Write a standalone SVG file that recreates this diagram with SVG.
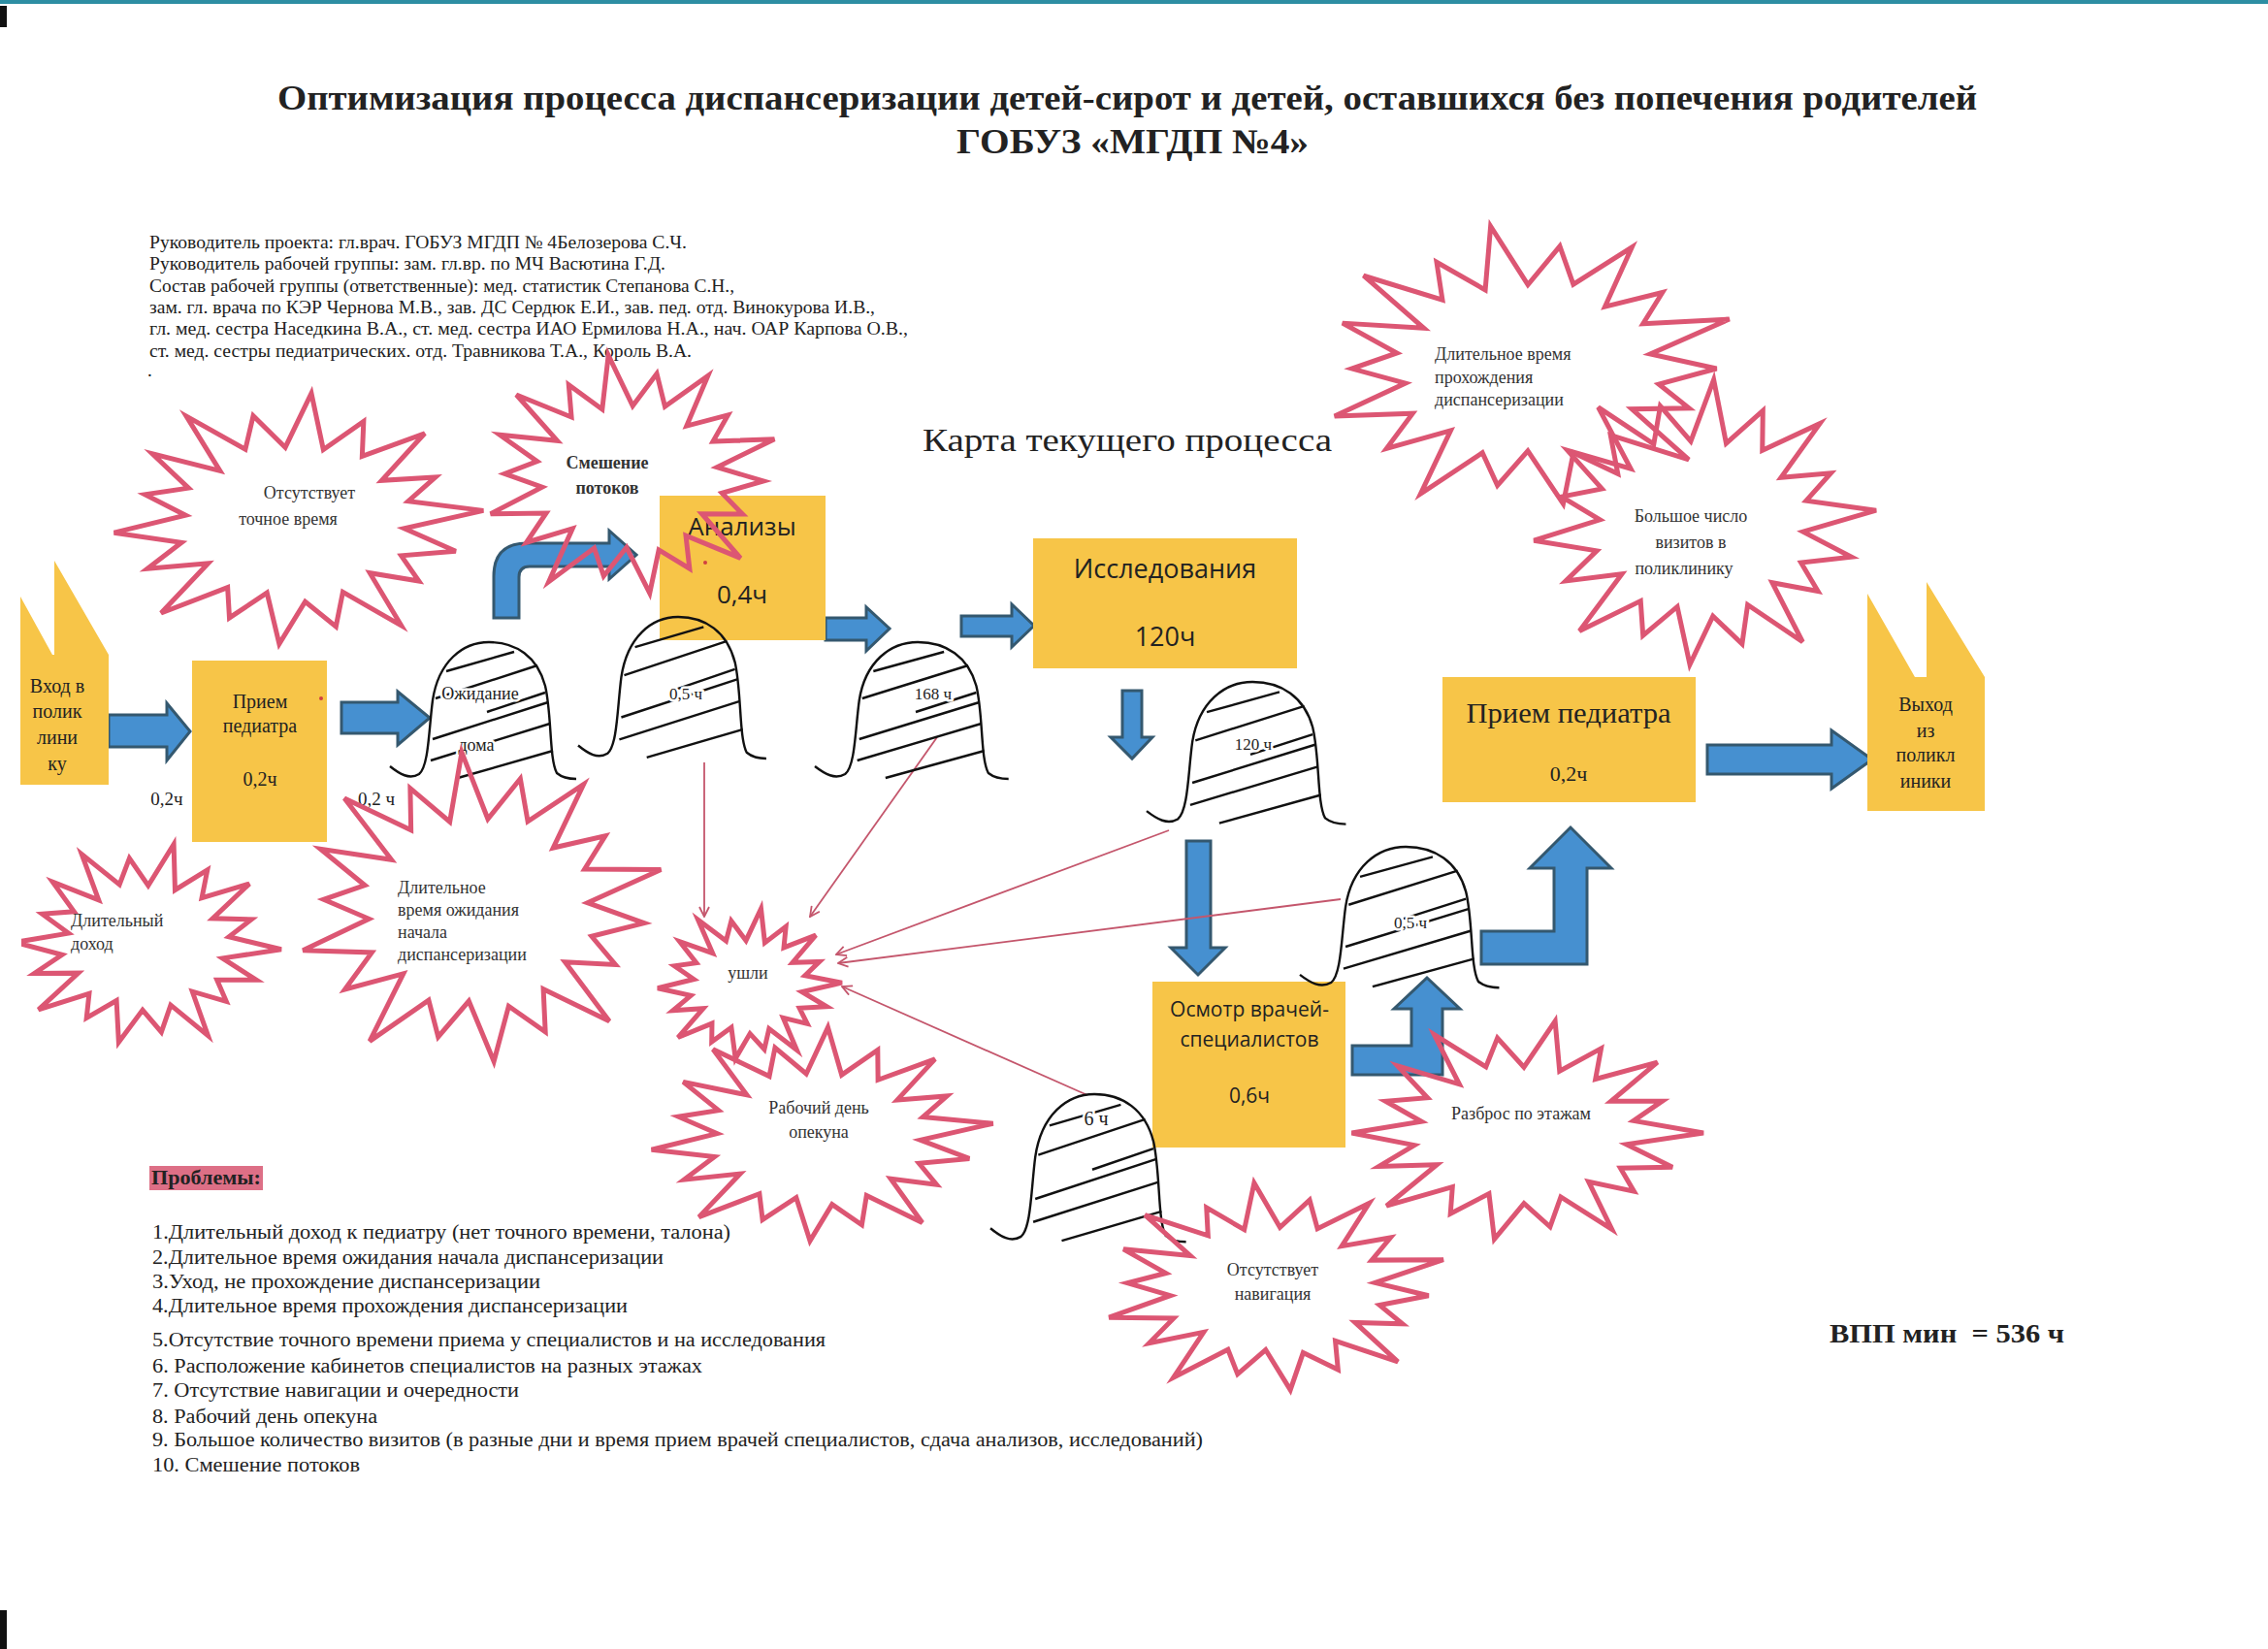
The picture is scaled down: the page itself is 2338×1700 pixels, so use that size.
<svg xmlns="http://www.w3.org/2000/svg" xmlns:xlink="http://www.w3.org/1999/xlink" width="2338" height="1700" viewBox="0 0 2338 1700">
<style>
.t{font-family:"Liberation Serif","Times New Roman",serif;fill:#222}
.s{font-family:"Open Sans","Liberation Sans",sans-serif;fill:#222}
.hl{paint-order:stroke;stroke:#fff;stroke-width:5px;stroke-linejoin:round}
.box{fill:#F7C548}
.barrow{fill:#4690D0;stroke:#34586F;stroke-width:3;stroke-linejoin:miter}
.red{stroke:#C4566C;stroke-width:1.8;fill:none}
.st{font-family:"Liberation Serif","Times New Roman",serif;font-size:18px;fill:#333}
</style>
<defs>
<polygon id="star" fill="none" stroke="#DC5673" stroke-width="5" stroke-linejoin="miter" vector-effect="non-scaling-stroke" points="0,-100 10.1,-57.1 29.4,-80.8 31,-53.7 62.4,-74.3 42.9,-36 71,-41 58.3,-21.2 98.5,-17.4 58,0 86.7,15.3 58.3,21.2 69.3,40 42.9,36 63,75.1 30,52 28.7,78.9 10.8,61.1 0,95 -9.9,56.1 -28,77.1 -31,53.7 -64.3,76.6 -42.9,36 -74.5,43 -58.3,21.2 -94.5,16.7 -58,0 -80.8,-14.2 -58.3,-21.2 -79.7,-46 -42.9,-36 -64.3,-76.6 -31,-53.7 -29.1,-79.9 -10.1,-57.1"/>
<g id="hump" fill="none" stroke="#111" stroke-width="2.4">
<path vector-effect="non-scaling-stroke" d="M0,128 C10,136 20,142 30,136 C40,128 40,90 44,60 C50,20 75,0 102,0 C130,0 152,15 160,45 C167,75 164,120 172,135 C178,140 185,141 192,141"/>
<line vector-effect="non-scaling-stroke" x1="58" y1="30" x2="128" y2="10"/>
<line vector-effect="non-scaling-stroke" x1="47" y1="58" x2="152" y2="24"/>
<line vector-effect="non-scaling-stroke" x1="100" y1="72" x2="160" y2="52"/>
<line vector-effect="non-scaling-stroke" x1="44" y1="100" x2="163" y2="62"/>
<line vector-effect="non-scaling-stroke" x1="42" y1="122" x2="165" y2="84"/>
<line vector-effect="non-scaling-stroke" x1="70" y1="140" x2="168" y2="112"/>
</g>
<marker id="ah" viewBox="0 0 12 12" refX="11" refY="6" markerWidth="12" markerHeight="12" markerUnits="userSpaceOnUse" orient="auto">
<path d="M1,1 L11,6 L1,11" fill="none" stroke="#C4566C" stroke-width="1.8"/>
</marker>
<clipPath id="pageclip"><rect x="22" y="0" width="2316" height="1700"/></clipPath>
</defs>
<rect width="2338" height="1700" fill="#ffffff"/>
<rect x="0" y="0" width="2338" height="4" fill="#2d8ea3"/>
<rect x="0" y="6" width="7" height="22" fill="#111"/>
<rect x="0" y="1660" width="7" height="40" fill="#111"/>

<g id="title">
<text class="t" x="286" y="113" font-size="36" font-weight="bold" textLength="1752" lengthAdjust="spacingAndGlyphs">Оптимизация процесса диспансеризации детей-сирот и детей, оставшихся без попечения родителей</text>
<text class="t" x="986" y="158" font-size="36" font-weight="bold" textLength="363" lengthAdjust="spacingAndGlyphs">ГОБУЗ «МГДП №4»</text>
</g>

<g id="team" font-size="19">
<text class="t" x="154" y="256" textLength="554" lengthAdjust="spacingAndGlyphs">Руководитель проекта: гл.врач. ГОБУЗ МГДП № 4Белозерова С.Ч.</text>
<text class="t" x="154" y="278" textLength="532" lengthAdjust="spacingAndGlyphs">Руководитель рабочей группы: зам. гл.вр. по МЧ Васютина Г.Д.</text>
<text class="t" x="154" y="301" textLength="603" lengthAdjust="spacingAndGlyphs">Состав рабочей группы (ответственные): мед. статистик Степанова С.Н.,</text>
<text class="t" x="154" y="323" textLength="748" lengthAdjust="spacingAndGlyphs">зам. гл.  врача по КЭР Чернова М.В., зав. ДС Сердюк Е.И., зав. пед. отд. Винокурова И.В.,</text>
<text class="t" x="154" y="345" textLength="782" lengthAdjust="spacingAndGlyphs">гл. мед. сестра  Наседкина В.А., ст. мед. сестра  ИАО Ермилова Н.А.,  нач. ОАР Карпова О.В.,</text>
<text class="t" x="154" y="368" textLength="559" lengthAdjust="spacingAndGlyphs">ст. мед. сестры педиатрических. отд. Травникова Т.А., Король В.А.</text>
<text class="t" x="152" y="388">.</text>
</g>

<g id="map-title">
<text class="t" x="951" y="465" font-size="34" textLength="422" lengthAdjust="spacingAndGlyphs">Карта текущего процесса</text>
</g>

<g id="connectors">
<polygon class="barrow" points="112,737 172,737 172,725 196,754 172,784 172,770 112,770"/>
<polygon class="barrow" points="352,724 410,724 410,713 443,740 410,768 410,756 352,756"/>
<path class="barrow" d="M509,637 L509,594 Q509,560 543,560 L628,560 L628,547 L656,572 L628,597 L628,584 L546,584 Q535,584 535,595 L535,637 Z"/>
<polygon class="barrow" points="851,637 893,637 893,626 917,648 893,671 893,660 851,660"/>
<polygon class="barrow" points="991,635 1043,635 1043,623 1066,645 1043,667 1043,656 991,656"/>
<polygon class="barrow" points="1157,712 1177,712 1177,760 1188,760 1167,782 1145,760 1157,760"/>
<polygon class="barrow" points="1223,867 1248,867 1248,977 1263,977 1235,1005 1207,977 1223,977"/>
<polygon class="barrow" points="1394,1078 1455,1078 1455,1040 1437,1040 1471,1008 1505,1040 1487,1040 1487,1108 1394,1108"/>
<polygon class="barrow" points="1527,960 1602,960 1602,895 1577,895 1619,853 1661,895 1636,895 1636,994 1527,994"/>
<polygon class="barrow" points="1760,768 1888,768 1888,753 1930,783 1888,813 1888,798 1760,798"/>
<line class="red" x1="726" y1="786" x2="726" y2="945" marker-end="url(#ah)"/>
<line class="red" x1="966" y1="760" x2="835" y2="945" marker-end="url(#ah)"/>
<line class="red" x1="1205" y1="856" x2="862" y2="984" marker-end="url(#ah)"/>
<line class="red" x1="1382" y1="927" x2="864" y2="993" marker-end="url(#ah)"/>
<line class="red" x1="1121" y1="1129" x2="868" y2="1017" marker-end="url(#ah)"/>
</g>

<g id="entry">
<polygon class="box" points="21,615 54,675 56,675 56,578 112,675 112,809 21,809"/>
<text class="t" font-size="20" text-anchor="middle"><tspan x="59" y="714">Вход в</tspan><tspan x="59" y="740">полик</tspan><tspan x="59" y="767">лини</tspan><tspan x="59" y="794">ку</tspan></text>
<text class="t" x="172" y="830" font-size="19" text-anchor="middle">0,2ч</text>
</g>

<g id="pediatrician1">
<rect class="box" x="198" y="681" width="139" height="187"/>
<text class="t" font-size="20" text-anchor="middle"><tspan x="268" y="730">Прием</tspan><tspan x="268" y="755">педиатра</tspan><tspan x="268" y="810">0,2ч</tspan></text>
<circle cx="331" cy="720" r="2" fill="#D04040"/>
<text class="t" x="388" y="830" font-size="19" text-anchor="middle">0,2 ч</text>
</g>

<g id="wait-home">
<use href="#hump" transform="translate(402,662)"/>
<text class="t hl" x="495" y="721" font-size="18" text-anchor="middle">Ожидание</text>
<text class="t hl" x="491" y="774" font-size="18" text-anchor="middle">дома</text>
</g>

<g id="analyses">
<rect class="box" x="680" y="511" width="171" height="149"/>
<circle cx="727" cy="580" r="2" fill="#D04040"/>
<text class="s" x="765" y="552" font-size="26" text-anchor="middle">Анализы</text>
<text class="s" x="765" y="622" font-size="26" text-anchor="middle">0,4ч</text>
</g>

<g id="wait-analyses">
<use href="#hump" transform="translate(596,636) scale(1.01,1.035)"/>
<text class="t hl" x="707" y="721" font-size="17" text-anchor="middle">0,5 ч</text>
</g>

<g id="wait-168">
<use href="#hump" transform="translate(840,662) scale(1.04,1.0)"/>
<text class="t hl" x="962" y="721" font-size="17" text-anchor="middle">168 ч</text>
</g>

<g id="research">
<rect class="box" x="1065" y="555" width="272" height="134"/>
<text class="s" x="1201" y="596" font-size="27" text-anchor="middle">Исследования</text>
<text class="s" x="1201" y="666" font-size="27" text-anchor="middle">120ч</text>
</g>

<g id="wait-120">
<use href="#hump" transform="translate(1182,703) scale(1.07,1.04)"/>
<text class="t hl" x="1292" y="773" font-size="17" text-anchor="middle">120 ч</text>
</g>

<g id="specialists">
<rect class="box" x="1188" y="1012" width="199" height="171"/>
<text class="s" x="1288" y="1048" font-size="21" text-anchor="middle">Осмотр врачей-</text>
<text class="s" x="1288" y="1079" font-size="21" text-anchor="middle">специалистов</text>
<text class="s" x="1288" y="1137" font-size="21" text-anchor="middle">0,6ч</text>
</g>

<g id="wait-05">
<use href="#hump" transform="translate(1340,873) scale(1.07,1.03)"/>
<text class="t hl" x="1454" y="957" font-size="17" text-anchor="middle">0,5 ч</text>
</g>

<g id="wait-6">
<use href="#hump" transform="translate(1021,1128) scale(1.05,1.08)"/>
<text class="t hl" x="1130" y="1160" font-size="20" text-anchor="middle">6 ч</text>
</g>

<g id="pediatrician2">
<rect class="box" x="1487" y="698" width="261" height="129"/>
<text class="t" x="1617" y="745" font-size="30" text-anchor="middle" textLength="211" lengthAdjust="spacingAndGlyphs">Прием педиатра</text>
<text class="t" x="1617" y="805" font-size="22" text-anchor="middle">0,2ч</text>
</g>

<g id="exit">
<polygon class="box" points="1925,612 1974,698 1986,698 1986,600 2046,698 2046,836 1925,836"/>
<text class="t" font-size="20" text-anchor="middle"><tspan x="1985" y="733">Выход</tspan><tspan x="1985" y="760">из</tspan><tspan x="1985" y="785">поликл</tspan><tspan x="1985" y="812">иники</tspan></text>
</g>

<g id="problem-stars">
<g id="star-time"><use href="#star" transform="translate(304,538) scale(1.95,1.33) rotate(5)"/>
<text class="st" x="319" y="514" text-anchor="middle">Отсутствует</text><text class="st" x="297" y="541" text-anchor="middle">точное время</text></g>
<g id="star-flows"><use href="#star" transform="translate(649,492) scale(1.57,1.27) rotate(-8)"/>
<text class="st" x="626" y="483" font-weight="bold" text-anchor="middle">Смешение</text><text class="st" x="626" y="509" font-weight="bold" text-anchor="middle">потоков</text></g>
<g id="star-arrival"><g clip-path="url(#pageclip)"><use href="#star" transform="translate(150,975) scale(1.40,1.07) rotate(12)"/></g>
<text class="st" x="73" y="955" fill="#444">Длительный</text><text class="st" x="73" y="979" fill="#444">доход</text></g>
<g id="star-start"><use href="#star" transform="translate(493,939) scale(1.95,1.64) rotate(-5)"/>
<text class="st" x="410" y="921">Длительное</text><text class="st" x="410" y="944">время ожидания</text><text class="st" x="410" y="967">начала</text><text class="st" x="410" y="990">диспансеризации</text></g>
<g id="star-left"><use href="#star" transform="translate(771,1016) scale(0.97,0.8) rotate(8)"/>
<text class="st" x="771" y="1009" text-anchor="middle">ушли</text></g>
<g id="star-guardian"><use href="#star" transform="translate(844,1172) scale(1.81,1.13) rotate(3)"/>
<text class="st" x="844" y="1148" text-anchor="middle">Рабочий день</text><text class="st" x="844" y="1173" text-anchor="middle">опекуна</text></g>
<g id="star-nav"><use href="#star" transform="translate(1312,1329) scale(1.83,1.1) rotate(-6)"/>
<text class="st" x="1312" y="1315" text-anchor="middle">Отсутствует</text><text class="st" x="1312" y="1340" text-anchor="middle">навигация</text></g>
<g id="star-floors"><use href="#star" transform="translate(1571,1168) scale(1.85,1.17) rotate(10)"/>
<text class="st" x="1568" y="1154" text-anchor="middle">Разброс по этажам</text></g>
<g id="star-duration"><use href="#star" transform="translate(1575,380) scale(2.21,1.49) rotate(-10)"/>
<text class="st" x="1479" y="371" fill="#555">Длительное время</text><text class="st" x="1479" y="395" fill="#555">прохождения</text><text class="st" x="1479" y="418" fill="#555">диспансеризации</text></g>
<g id="star-visits"><use href="#star" transform="translate(1754,542) scale(1.81,1.51) rotate(4)"/>
<text class="st" x="1743" y="538" text-anchor="middle">Большое число</text><text class="st" x="1743" y="565" text-anchor="middle">визитов в</text><text class="st" x="1736" y="592" text-anchor="middle">поликлинику</text></g>
</g>

<g id="problems" font-size="20">
<rect x="154" y="1202" width="117" height="25" fill="#DD6F86"/>
<text class="t" x="156" y="1221" font-size="21" font-weight="bold" textLength="113" lengthAdjust="spacingAndGlyphs">Проблемы:</text>
<text class="t" x="157" y="1277" textLength="596" lengthAdjust="spacingAndGlyphs">1.Длительный доход к педиатру (нет точного времени, талона)</text>
<text class="t" x="157" y="1303" textLength="527" lengthAdjust="spacingAndGlyphs">2.Длительное время ожидания начала диспансеризации</text>
<text class="t" x="157" y="1328" textLength="400" lengthAdjust="spacingAndGlyphs">3.Уход, не прохождение диспансеризации</text>
<text class="t" x="157" y="1353" textLength="490" lengthAdjust="spacingAndGlyphs">4.Длительное время прохождения диспансеризации</text>
<text class="t" x="157" y="1388" textLength="694" lengthAdjust="spacingAndGlyphs">5.Отсутствие точного времени приема у специалистов и на исследования</text>
<text class="t" x="157" y="1415" textLength="567" lengthAdjust="spacingAndGlyphs">6. Расположение кабинетов специалистов на разных этажах</text>
<text class="t" x="157" y="1440" textLength="378" lengthAdjust="spacingAndGlyphs">7. Отсутствие навигации и очередности</text>
<text class="t" x="157" y="1467" textLength="232" lengthAdjust="spacingAndGlyphs">8. Рабочий день опекуна</text>
<text class="t" x="157" y="1491" textLength="1083" lengthAdjust="spacingAndGlyphs">9. Большое количество визитов (в разные дни и время прием врачей специалистов, сдача анализов, исследований)</text>
<text class="t" x="157" y="1517" textLength="214" lengthAdjust="spacingAndGlyphs">10. Смешение потоков</text>
</g>

<g id="lead-time">
<text class="t" x="1886" y="1384" font-size="27" font-weight="bold" textLength="242" lengthAdjust="spacingAndGlyphs" xml:space="preserve">ВПП мин  = 536 ч</text>
</g>
</svg>
